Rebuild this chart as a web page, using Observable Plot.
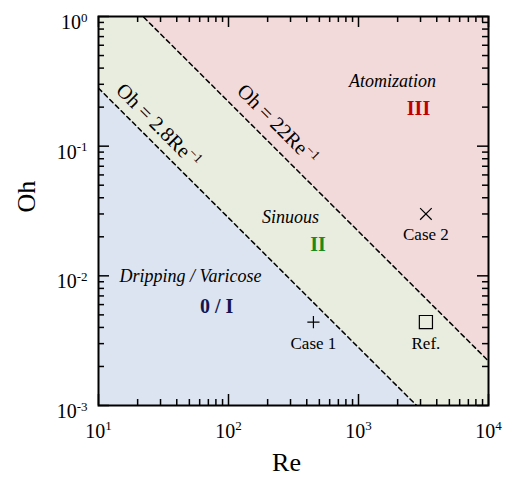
<!DOCTYPE html>
<html><head><meta charset="utf-8">
<script src="https://cdn.jsdelivr.net/npm/d3@7"></script>
<script src="https://cdn.jsdelivr.net/npm/@observablehq/plot@0.6"></script>
<style>html,body{margin:0;padding:0;background:#fff} svg{display:block}</style>
</head><body><div id="chart"></div>
<script>
// ---- data ----
const reDomain = [10, 1e4];
const ohDomain = [1e-3, 1];
const xMajor = [10, 100, 1000, 10000];
const xTickLabels = ["10^1", "10^2", "10^3", "10^4"];
const yMajor = [1e-3, 1e-2, 1e-1, 1];
const yTickLabels = ["10^-3", "10^-2", "10^-1", "10^0"];

// regime boundaries Oh = c / Re
const boundaryCoefs = [2.8, 22];
const boundaryLabels = ["Oh = 2.8Re^\u22121", "Oh = 22Re^\u22121"];
const boundaryLabelRe = [28.9, 238];
const boundaryLabelOh = [0.144, 0.147];

// regime names
const regimeNames = ["Atomization", "Sinuous", "Dripping / Varicose"];
const regimeNameRe = [1826, 300, 51];
const regimeNameOh = [0.314, 0.0285, 0.0100];
const regimeNumerals = ["III", "II", "0 / I"];
const regimeNumRe = [2894, 488, 81];
const regimeNumOh = [0.1966, 0.01757, 0.00577];

// cases
const caseNames = ["Case 1", "Ref.", "Case 2"];
const caseRe = [450, 3300, 3300];
const caseOh = [0.0044, 0.0044, 0.030];

// ---- derived tables ----
const xMinor = [], yMinor = [];
for (let e = 1; e < 4; e++) for (let m = 2; m <= 9; m++) xMinor.push(m * 10 ** e);
for (let e = -3; e < 0; e++) for (let m = 2; m <= 9; m++) yMinor.push(+(m * 10 ** e).toPrecision(3));

const edges = reDomain.map(Re => ({
  Re,
  bottom: ohDomain[0],
  top: ohDomain[1],
  b1: boundaryCoefs[0] / Re,
  b2: boundaryCoefs[1] / Re
}));
const cases = caseNames.map((name, i) => ({name, Re: caseRe[i], Oh: caseOh[i]}));
const numeralColors = ["#c00000", "#1a8a1a", "#141450"];
const serif = "'Liberation Serif', 'Times New Roman', Times, serif";

const W = 514, H = 485, ML = 98, MR = 26, MT = 16, MB = 80;
// decades per pixel, to express inward tick lengths on the log scales
const decX = Math.log10(reDomain[1] / reDomain[0]) / (W - ML - MR);
const decY = Math.log10(ohDomain[1] / ohDomain[0]) / (H - MT - MB);
const kx = n => 10 ** (n * decX);
const ky = n => 10 ** (n * decY);

const tickStyle = {stroke: "black", strokeWidth: 1.5};
const ticks = [];
for (const [vals, len] of [[xMajor, 11], [xMinor, 6]]) {
  ticks.push(Plot.ruleX(vals, {x: d => d, y1: ohDomain[0], y2: ohDomain[0] * ky(len), ...tickStyle}));
  ticks.push(Plot.ruleX(vals, {x: d => d, y1: ohDomain[1] / ky(len), y2: ohDomain[1], ...tickStyle}));
}
for (const [vals, len] of [[yMajor, 11], [yMinor, 6]]) {
  ticks.push(Plot.ruleY(vals, {y: d => d, x1: reDomain[0], x2: reDomain[0] * kx(len), ...tickStyle}));
  ticks.push(Plot.ruleY(vals, {y: d => d, x1: reDomain[1] / kx(len), x2: reDomain[1], ...tickStyle}));
}

const txt = {fontFamily: serif, fill: "black"};

const chart = Plot.plot({
  width: W,
  height: H,
  marginLeft: ML,
  marginRight: MR,
  marginTop: MT,
  marginBottom: MB,
  style: {fontFamily: serif, background: "white", color: "black"},
  x: {type: "log", domain: reDomain, axis: null},
  y: {type: "log", domain: ohDomain, axis: null},
  marks: [
    Plot.areaY(edges, {x: "Re", y1: "bottom", y2: "b1", fill: "#dbe4f0", clip: true}),
    Plot.areaY(edges, {x: "Re", y1: "b1", y2: "b2", fill: "#e9eddf", clip: true}),
    Plot.areaY(edges, {x: "Re", y1: "b2", y2: "top", fill: "#f2dadb", clip: true}),
    Plot.line(edges, {x: "Re", y: "b1", stroke: "black", strokeWidth: 1.5, strokeDasharray: "4.5,3.5", clip: true}),
    Plot.line(edges, {x: "Re", y: "b2", stroke: "black", strokeWidth: 1.5, strokeDasharray: "4.5,3.5", clip: true}),
    ...ticks,
    Plot.frame({stroke: "black", strokeWidth: 2}),
    Plot.text(xMajor, {x: d => d, frameAnchor: "bottom", dy: 32, text: (d, i) => xTickLabels[i], fontSize: 20, ...txt}),
    Plot.text(yMajor, {y: d => d, frameAnchor: "left", textAnchor: "end", dx: -11, dy: 6, text: (d, i) => yTickLabels[i], fontSize: 20, ...txt}),
    Plot.text(["Re"], {frameAnchor: "bottom", dx: -7, dy: 65, fontSize: 26, ...txt}),
    Plot.text(["Oh"], {frameAnchor: "left", rotate: -90, dx: -72, dy: 1.5, fontSize: 26, ...txt}),
    Plot.text(boundaryLabels, {x: (d, i) => boundaryLabelRe[i], y: (d, i) => boundaryLabelOh[i], text: d => d, rotate: 45, fontSize: 20.5, ...txt}),
    Plot.text(regimeNames, {x: (d, i) => regimeNameRe[i], y: (d, i) => regimeNameOh[i], text: d => d, fontSize: 18, fontStyle: "italic", ...txt}),
    Plot.text(regimeNumerals, {x: (d, i) => regimeNumRe[i], y: (d, i) => regimeNumOh[i], text: d => d, fontSize: 20, fontWeight: "bold", fontFamily: serif, fill: (d, i) => numeralColors[i]}),
    Plot.dot(cases.filter((d, i) => i === 0), {x: "Re", y: "Oh", symbol: "plus", r: 4, stroke: "black", strokeWidth: 1.2}),
    Plot.dot(cases.filter((d, i) => i === 1), {x: "Re", y: "Oh", symbol: "square", r: 7.4, fill: "none", stroke: "black", strokeWidth: 1.2}),
    Plot.dot(cases.filter((d, i) => i === 2), {x: "Re", y: "Oh", symbol: "times", r: 5.34, stroke: "black", strokeWidth: 1.2}),
    Plot.text(cases, {x: "Re", y: "Oh", text: "name", fontSize: 17, ...txt, dy: 21})
  ]
});

// superscripts: "base^exp"
d3.select(chart).selectAll("text").each(function () {
  const t = this.textContent;
  if (!t || !t.includes("^")) return;
  const [base, exp] = t.split("^");
  const sel = d3.select(this);
  sel.text(base);
  sel.append("tspan").attr("dy", "-0.55em").attr("font-size", "0.65em").text(exp);
});

document.getElementById("chart").appendChild(chart);
</script>
</body></html>
